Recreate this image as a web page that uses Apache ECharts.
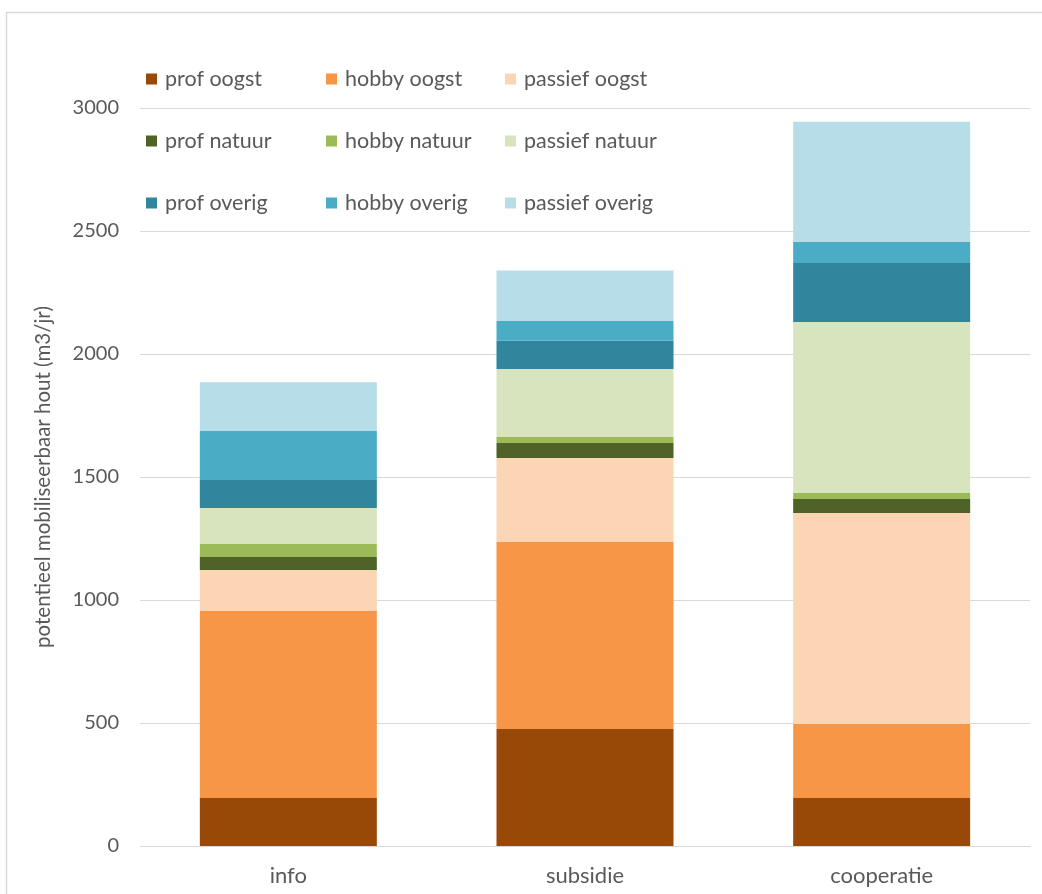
<!DOCTYPE html>
<html><head><meta charset="utf-8">
<script src="https://cdn.jsdelivr.net/npm/echarts@6/dist/echarts.min.js"></script>
<style>html,body{margin:0;padding:0;background:#fff}#c{width:1042px;height:894px}</style>
</head><body><div id="c"></div>
<script>
const categories = ['info', 'subsidie', 'cooperatie'];
const seriesNames = ['prof oogst','hobby oogst','passief oogst','prof natuur','hobby natuur','passief natuur','prof overig','hobby overig','passief overig'];
const profOogst     = [195, 476, 195];
const hobbyOogst    = [760, 760, 301];
const passiefOogst  = [167, 341, 858];
const profNatuur    = [53, 61, 57];
const hobbyNatuur   = [53, 25, 24];
const passiefNatuur = [146, 276, 695];
const profOverig    = [114, 115, 240];
const hobbyOverig   = [199, 80, 85];
const passiefOverig = [198, 205, 489];
const yTicks = [0, 500, 1000, 1500, 2000, 2500, 3000];

const values = [profOogst, hobbyOogst, passiefOogst, profNatuur, hobbyNatuur, passiefNatuur, profOverig, hobbyOverig, passiefOverig];
const colors = ['#984807','#F79646','#FCD5B5','#4F6228','#9BBB59','#D7E4BD','#31859C','#4BACC6','#B7DEE8'];

const FONT = 'Lato';
const TXT = '#595959';
const chart = echarts.init(document.getElementById('c'), null, {renderer:'canvas'});

const legendCol = (names, left) => ({
  orient: 'vertical', left: left, top: 62, itemGap: 38,
  itemWidth: 11, itemHeight: 11, icon: 'rect',
  textStyle: {fontFamily: FONT, fontSize: 21.5, color: TXT, height: 24, lineHeight: 24, padding: [0,0,0,3]},
  data: names, selectedMode: false
});

chart.setOption({
  animation: false,
  backgroundColor: '#fff',
  graphic: [{type:'rect', shape:{x:6.5, y:12.5, width:1100, height:1000}, style:{fill:'none', stroke:'#d9d9d9', lineWidth:1.5}, silent:true, z:-10}],
  legend: [
    legendCol([seriesNames[0], seriesNames[3], seriesNames[6]], 141),
    legendCol([seriesNames[1], seriesNames[4], seriesNames[7]], 321),
    legendCol([seriesNames[2], seriesNames[5], seriesNames[8]], 500)
  ],
  grid: {left: 140, right: 12, top: 108, bottom: 48, containLabel: false},
  xAxis: {
    type: 'category', data: categories,
    axisLine: {show: true, lineStyle: {color: '#d9d9d9'}},
    axisTick: {show: false},
    axisLabel: {fontFamily: FONT, fontSize: 22, color: TXT, margin: 19}
  },
  yAxis: {
    type: 'value', min: 0, max: 3000, interval: 500,
    name: 'potentieel mobiliseerbaar hout (m3/jr)',
    nameLocation: 'middle', nameGap: 86, nameRotate: 90,
    nameTextStyle: {fontFamily: FONT, fontSize: 20.5, color: TXT},
    axisLine: {show: false}, axisTick: {show: false},
    axisLabel: {fontFamily: FONT, fontSize: 20, color: TXT, margin: 21,
      formatter: v => yTicks.includes(v) ? String(v) : ''},
    splitLine: {lineStyle: {color: '#d9d9d9', width: 1}}
  },
  series: seriesNames.map((n, i) => ({
    name: n, type: 'bar', stack: 'total', barWidth: 177,
    itemStyle: {color: colors[i]},
    data: values[i]
  }))
});
</script></body></html>
